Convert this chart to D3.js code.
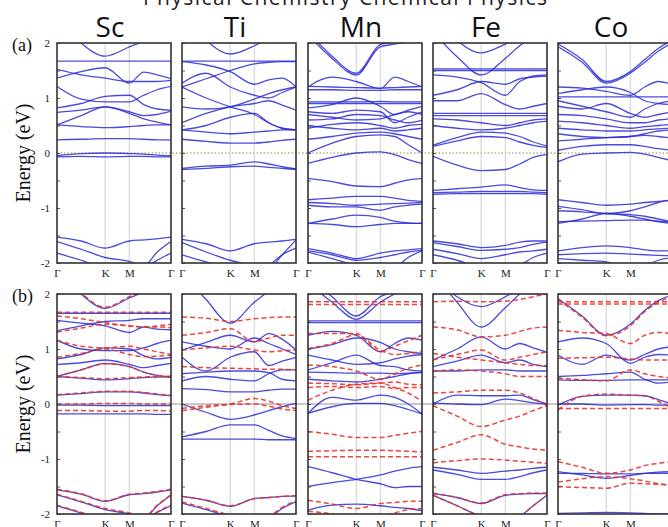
<!DOCTYPE html>
<html>
<head>
<meta charset="utf-8">
<script src="https://cdn.jsdelivr.net/npm/d3@7"></script>
<style>
  body { margin: 0; background: #fff; }
  svg { display: block; }
  .klab text { font-family: "Liberation Serif", "DejaVu Serif", serif; font-size: 11px; fill: #222; }
  .elab text { font-family: "Liberation Serif", "DejaVu Serif", serif; font-size: 11px; fill: #222; }
</style>
</head>
<body>
<svg id="chart" width="668" height="527"></svg>
<script>
// k-path of the hexagonal zone, distances in units of Gamma-K
var kTicks = [0, 1.0, 1.5, 2.366];
var kLabels = ["Γ", "K", "M", "Γ"];
var kGrid = [0, 0.5, 1.0, 1.5, 1.8, 2.08, 2.366];
var elements = ["Sc", "Ti", "Mn", "Fe", "Co"];
var energyTicks = [-2, -1, 0, 1, 2];

// (a) bands, eV
var scBands = [
  [2.5, 2.0, 1.76, 1.93, 2.05, 2.3, 2.5],
  [1.67, 1.67, 1.67, 1.67, 1.67, 1.67, 1.67],
  [1.36, 1.48, 1.55, 1.27, 1.47, 1.42, 1.35],
  [1.52, 1.42, 1.36, 1.3, 1.3, 1.3, 1.32],
  [1.21, 0.98, 0.93, 0.93, 1.05, 1.15, 1.21],
  [0.82, 0.9, 1.03, 1.05, 0.88, 0.8, 0.78],
  [0.74, 0.78, 0.84, 0.75, 0.68, 0.7, 0.76],
  [0.51, 0.68, 0.84, 0.72, 0.62, 0.56, 0.51],
  [0.51, 0.48, 0.46, 0.48, 0.5, 0.51, 0.51],
  [0.24, 0.25, 0.26, 0.26, 0.25, 0.24, 0.24],
  [-0.05, -0.01, 0.0, -0.01, -0.02, -0.04, -0.05],
  [-0.07, -0.06, -0.07, -0.06, -0.06, -0.07, -0.07],
  [-1.53, -1.6, -1.73, -1.6, -1.58, -1.56, -1.53],
  [-1.61, -1.75, -1.9, -1.97, -2.05, -1.8, -1.61],
  [-1.82, -1.95, -2.1, -2.2, -2.1, -1.95, -1.82]
];
var tiBands = [
  [2.6, 2.05, 1.8, 1.95, 2.1, 2.3, 2.5],
  [1.67, 1.67, 1.67, 1.67, 1.67, 1.67, 1.67],
  [1.66, 1.6, 1.48, 1.25, 1.33, 1.36, 1.2],
  [1.2, 1.35, 1.5, 1.62, 1.65, 1.66, 1.66],
  [1.27, 1.45, 1.2, 1.05, 1.0, 1.1, 1.2],
  [1.2, 1.0, 0.84, 0.7, 0.55, 0.45, 0.42],
  [0.84, 0.8, 0.84, 0.98, 1.08, 1.15, 1.2],
  [0.55, 0.72, 0.84, 0.9, 0.95, 0.87, 0.78],
  [0.42, 0.5, 0.65, 0.72, 0.55, 0.45, 0.42],
  [0.42, 0.38, 0.35, 0.38, 0.4, 0.42, 0.42],
  [0.25, 0.21, 0.18, 0.18, 0.2, 0.23, 0.25],
  [-0.28, -0.24, -0.22, -0.16, -0.2, -0.25, -0.29],
  [-0.3, -0.28, -0.25, -0.24, -0.26, -0.28, -0.3],
  [-1.57, -1.65, -1.78, -1.65, -1.62, -1.6, -1.57],
  [-1.63, -1.8, -1.95, -2.05, -2.1, -1.85, -1.58],
  [-1.85, -1.98, -2.1, -2.2, -2.05, -1.85, -1.73]
];
var mnBands = [
  [2.15, 1.72, 1.42, 1.93, 1.98, 2.02, 2.08],
  [2.2, 1.76, 1.45, 1.97, 2.02, 2.07, 2.13],
  [1.2, 1.38, 1.3, 1.17, 1.38, 1.3, 1.2],
  [1.21, 1.2, 1.19, 1.18, 1.19, 1.2, 1.21],
  [1.15, 1.15, 1.14, 1.14, 1.15, 1.15, 1.15],
  [0.93, 0.93, 0.93, 0.94, 0.93, 0.93, 0.93],
  [0.9, 0.9, 0.9, 0.9, 0.9, 0.9, 0.9],
  [0.82, 0.88, 1.0, 0.85, 0.7, 0.78, 0.85],
  [0.75, 0.72, 0.78, 0.75, 0.55, 0.65, 0.75],
  [0.7, 0.65, 0.6, 0.62, 0.7, 0.75, 0.7],
  [0.6, 0.62, 0.7, 0.68, 0.6, 0.55, 0.6],
  [0.45, 0.52, 0.55, 0.5, 0.45, 0.5, 0.52],
  [0.5, 0.45, 0.42, 0.45, 0.4, 0.42, 0.45],
  [0.25, 0.3, 0.36, 0.38, 0.35, 0.3, 0.25],
  [0.0, 0.18, 0.3, 0.33, 0.3, 0.15, 0.0],
  [-0.19, -0.08, 0.0, 0.02, -0.03, -0.12, -0.19],
  [-0.46, -0.52, -0.6, -0.61, -0.55, -0.49, -0.46],
  [-0.85, -0.82, -0.79, -0.79, -0.82, -0.86, -0.88],
  [-0.9, -0.92, -0.95, -0.93, -0.92, -0.91, -0.9],
  [-0.95, -0.98, -0.98, -1.04, -0.98, -0.95, -0.93],
  [-1.28, -1.2, -1.13, -1.17, -1.24, -1.27, -1.28],
  [-1.28, -1.3, -1.34, -1.3, -1.28, -1.28, -1.28],
  [-1.74, -1.82, -1.92, -1.82, -1.78, -1.76, -1.74],
  [-1.78, -1.85, -1.95, -1.9, -1.85, -1.8, -1.77],
  [-1.8, -1.92, -2.05, -2.2, -2.1, -1.9, -1.78]
];
var feBands = [
  [2.6, 2.05, 1.82, 1.98, 2.1, 2.3, 2.5],
  [2.2, 1.75, 1.42, 1.72, 1.95, 2.1, 2.2],
  [1.53, 1.53, 1.53, 1.53, 1.53, 1.53, 1.53],
  [1.5, 1.5, 1.5, 1.5, 1.5, 1.5, 1.5],
  [1.42, 1.38, 1.28, 1.05, 1.3, 1.4, 1.42],
  [1.05, 1.15, 1.3, 1.25, 1.35, 1.38, 1.4],
  [0.95, 0.95, 1.08, 0.88, 0.8, 0.85, 0.9],
  [0.72, 0.72, 0.72, 0.72, 0.72, 0.72, 0.72],
  [0.68, 0.68, 0.68, 0.68, 0.68, 0.68, 0.68],
  [0.62, 0.6, 0.55, 0.5, 0.55, 0.6, 0.62],
  [0.5, 0.45, 0.42, 0.45, 0.5, 0.55, 0.58],
  [0.14, 0.28, 0.38, 0.36, 0.3, 0.2, 0.13],
  [0.12, 0.22, 0.3, 0.28, 0.2, 0.14, 0.1],
  [-0.06, -0.22, -0.32, -0.3, -0.2, -0.08, -0.03],
  [-0.68, -0.65, -0.62, -0.58, -0.63, -0.67, -0.68],
  [-0.72, -0.71, -0.7, -0.7, -0.7, -0.71, -0.72],
  [-0.75, -0.74, -0.74, -0.74, -0.74, -0.74, -0.75],
  [-1.6, -1.65, -1.72, -1.68, -1.62, -1.6, -1.6],
  [-1.63, -1.7, -1.77, -1.75, -1.72, -1.66, -1.62],
  [-1.75, -1.83, -1.92, -1.85, -1.8, -1.78, -1.75],
  [-1.85, -1.95, -2.1, -2.2, -2.05, -1.9, -1.82]
];
var coBands = [
  [1.93, 1.65, 1.27, 1.45, 1.65, 1.85, 2.0],
  [1.98, 1.7, 1.3, 1.48, 1.7, 1.9, 2.05],
  [1.02, 1.02, 1.02, 1.02, 1.02, 1.02, 1.02],
  [1.2, 1.18, 1.12, 1.05, 1.2, 1.3, 1.25],
  [1.08, 1.15, 1.2, 1.1, 0.95, 0.9, 0.88],
  [0.95, 0.85, 0.75, 0.65, 0.8, 0.9, 0.95],
  [0.85, 0.8, 0.9, 0.72, 0.65, 0.7, 0.75],
  [0.7, 0.68, 0.62, 0.55, 0.55, 0.6, 0.62],
  [0.58, 0.55, 0.5, 0.45, 0.48, 0.5, 0.52],
  [0.45, 0.42, 0.4, 0.4, 0.42, 0.44, 0.45],
  [0.35, 0.3, 0.28, 0.3, 0.35, 0.4, 0.42],
  [0.22, 0.25, 0.28, 0.3, 0.32, 0.3, 0.27],
  [0.05, 0.12, 0.15, 0.15, 0.12, 0.08, 0.05],
  [-0.16, -0.02, 0.0, 0.01, -0.02, -0.08, -0.14],
  [-0.85, -0.9, -0.95, -0.93, -0.9, -0.88, -0.86],
  [-0.97, -1.03, -1.1, -1.05, -0.98, -0.9, -0.85],
  [-1.05, -1.07, -1.1, -1.12, -1.15, -1.2, -1.25],
  [-1.28, -1.2, -1.1, -1.15, -1.2, -1.25, -1.28],
  [-1.25, -1.24, -1.23, -1.22, -1.22, -1.24, -1.25],
  [-1.78, -1.72, -1.69, -1.72, -1.76, -1.78, -1.78],
  [-1.85, -1.83, -1.82, -1.84, -1.85, -1.86, -1.87],
  [-1.92, -1.95, -1.98, -2.1, -2.05, -1.95, -1.9]
];

// (b) spin up (solid blue) and spin down (dashed red), eV
var scUp = [
  [2.5, 2.0, 1.74, 1.93, 2.05, 2.3, 2.5],
  [1.65, 1.65, 1.65, 1.65, 1.65, 1.65, 1.65],
  [1.52, 1.47, 1.42, 1.3, 1.4, 1.36, 1.35],
  [1.33, 1.42, 1.5, 1.52, 1.55, 1.55, 1.55],
  [1.16, 1.0, 0.97, 0.97, 1.02, 1.1, 1.16],
  [0.82, 0.9, 1.02, 1.0, 0.88, 0.82, 0.85],
  [0.72, 0.75, 0.8, 0.72, 0.66, 0.7, 0.74],
  [0.5, 0.62, 0.74, 0.68, 0.58, 0.52, 0.48],
  [0.5, 0.47, 0.44, 0.46, 0.48, 0.49, 0.5],
  [0.16, 0.19, 0.22, 0.22, 0.2, 0.17, 0.15],
  [-0.02, -0.02, -0.03, -0.03, -0.03, -0.03, -0.03],
  [-0.18, -0.18, -0.18, -0.18, -0.18, -0.19, -0.19],
  [-1.56, -1.64, -1.77, -1.65, -1.63, -1.6, -1.56],
  [-1.65, -1.78, -1.92, -2.0, -2.08, -1.85, -1.66],
  [-1.85, -1.98, -2.12, -2.2, -2.1, -1.97, -1.85]
];
var scDn = [
  [2.5, 2.02, 1.76, 1.95, 2.07, 2.3, 2.5],
  [1.67, 1.67, 1.67, 1.67, 1.67, 1.67, 1.67],
  [1.6, 1.55, 1.48, 1.42, 1.4, 1.42, 1.45],
  [1.31, 1.38, 1.45, 1.42, 1.4, 1.4, 1.39],
  [1.16, 1.05, 1.02, 1.05, 1.0, 0.95, 0.9],
  [0.85, 0.92, 1.0, 0.9, 0.86, 0.87, 0.89],
  [0.5, 0.62, 0.73, 0.68, 0.58, 0.52, 0.5],
  [0.5, 0.48, 0.46, 0.48, 0.49, 0.5, 0.5],
  [0.17, 0.2, 0.23, 0.23, 0.21, 0.18, 0.16],
  [0.0, 0.0, 0.01, 0.01, 0.0, 0.0, 0.0],
  [-0.12, -0.12, -0.13, -0.13, -0.12, -0.12, -0.13],
  [-1.55, -1.63, -1.76, -1.64, -1.62, -1.59, -1.55],
  [-1.64, -1.77, -1.9, -1.98, -2.06, -1.84, -1.65],
  [-1.84, -1.97, -2.1, -2.2, -2.1, -1.96, -1.84]
];
var tiUp = [
  [2.4, 1.9, 1.47, 1.85, 2.05, 2.2, 2.4],
  [0.98, 1.12, 1.25, 1.13, 1.28, 1.18, 0.98],
  [1.13, 1.05, 1.0, 1.2, 1.1, 1.0, 0.9],
  [0.85, 0.6, 0.85, 0.95, 0.7, 0.78, 0.85],
  [0.55, 0.58, 0.6, 0.6, 0.57, 0.45, 0.42],
  [0.42, 0.5, 0.45, 0.42, 0.55, 0.62, 0.62],
  [0.28, 0.26, 0.22, 0.22, 0.25, 0.27, 0.27],
  [0.0, -0.15, -0.28, -0.2, -0.12, -0.05, 0.01],
  [-0.6, -0.5, -0.38, -0.38, -0.48, -0.58, -0.63],
  [-0.64, -0.64, -0.64, -0.64, -0.65, -0.65, -0.65],
  [-1.68, -1.75, -1.86, -1.72, -1.7, -1.68, -1.67],
  [-1.8, -1.92, -2.05, -2.15, -2.08, -1.9, -1.78]
];
var tiDn = [
  [1.58, 1.56, 1.5, 1.55, 1.57, 1.58, 1.58],
  [1.25, 1.3, 1.37, 1.13, 1.2, 1.25, 1.25],
  [0.98, 1.02, 1.05, 0.98, 0.95, 0.97, 0.98],
  [0.68, 0.66, 0.65, 0.64, 0.63, 0.63, 0.62],
  [-0.08, -0.03, 0.0, 0.1, 0.05, -0.03, -0.08],
  [-0.12, -0.06, -0.01, 0.0, -0.04, -0.09, -0.12],
  [-1.68, -1.75, -1.85, -1.72, -1.7, -1.68, -1.67],
  [-1.78, -1.9, -2.02, -2.12, -2.05, -1.88, -1.76]
];
var mnUp = [
  [2.2, 1.85, 1.54, 1.85, 2.0, 2.1, 2.2],
  [2.3, 1.95, 1.6, 1.95, 2.05, 2.15, 2.25],
  [1.51, 1.51, 1.51, 1.51, 1.51, 1.51, 1.51],
  [1.48, 1.48, 1.48, 1.48, 1.48, 1.48, 1.48],
  [1.25, 1.32, 1.25, 0.95, 1.1, 1.2, 1.16],
  [1.0, 1.08, 1.2, 1.12, 1.0, 0.95, 0.92],
  [0.89, 0.8, 0.72, 0.75, 0.82, 0.87, 0.9],
  [0.62, 0.75, 0.89, 0.7, 0.68, 0.62, 0.6],
  [0.58, 0.57, 0.56, 0.56, 0.55, 0.56, 0.57],
  [0.45, 0.42, 0.4, 0.45, 0.5, 0.55, 0.58],
  [-0.17, 0.12, 0.07, 0.16, 0.12, 0.0, -0.18],
  [-0.17, -0.05, 0.01, 0.01, -0.03, -0.1, -0.18],
  [-1.14, -1.25, -1.37, -1.45, -1.52, -1.5, -1.5],
  [-1.5, -1.43, -1.37, -1.29, -1.22, -1.17, -1.14],
  [-1.93, -1.84, -1.82, -1.85, -1.88, -1.9, -1.94]
];
var mnDn = [
  [1.86, 1.86, 1.86, 1.86, 1.86, 1.86, 1.86],
  [1.81, 1.81, 1.81, 1.81, 1.81, 1.81, 1.81],
  [1.28, 1.28, 1.28, 0.95, 1.05, 1.15, 1.25],
  [1.01, 1.1, 1.26, 0.98, 0.9, 0.92, 0.95],
  [0.71, 0.68, 0.6, 0.45, 0.55, 0.65, 0.71],
  [0.38, 0.37, 0.35, 0.38, 0.4, 0.36, 0.35],
  [0.3, 0.32, 0.3, 0.32, 0.28, 0.3, 0.3],
  [0.07, 0.25, 0.36, 0.38, 0.3, 0.2, 0.05],
  [-0.5, -0.55, -0.61, -0.61, -0.57, -0.53, -0.5],
  [-0.86, -0.85, -0.84, -0.84, -0.85, -0.86, -0.87],
  [-0.96, -0.96, -0.96, -0.96, -0.96, -0.96, -0.96],
  [-1.75, -1.82, -1.9, -1.81, -1.79, -1.77, -1.77],
  [-1.95, -2.0, -2.1, -2.05, -1.98, -1.92, -1.9]
];
var feUp = [
  [2.3, 1.95, 1.77, 1.95, 2.1, 2.3, 2.4],
  [2.4, 1.85, 1.4, 1.75, 2.0, 2.2, 2.3],
  [0.8, 1.0, 1.22, 1.0, 1.1, 1.02, 0.94],
  [0.68, 0.78, 0.89, 0.75, 0.8, 0.72, 0.68],
  [0.6, 0.6, 0.62, 0.62, 0.6, 0.6, 0.6],
  [0.0, 0.16, 0.15, 0.15, 0.16, 0.08, 0.0],
  [0.02, 0.0, -0.01, 0.09, 0.06, 0.02, 0.0],
  [-1.15, -1.2, -1.26, -1.22, -1.2, -1.17, -1.15],
  [-1.2, -1.28, -1.37, -1.37, -1.32, -1.25, -1.2],
  [-1.63, -1.7, -1.81, -1.66, -1.64, -1.63, -1.63],
  [-1.66, -1.85, -2.05, -2.2, -2.05, -1.85, -1.66]
];
var feDn = [
  [1.86, 1.87, 1.86, 1.87, 1.9, 1.95, 2.0],
  [1.4, 1.35, 1.22, 1.25, 1.32, 1.38, 1.4],
  [0.8, 0.9, 0.98, 0.8, 0.85, 0.9, 0.95],
  [0.92, 0.85, 0.8, 0.75, 0.72, 0.7, 0.7],
  [0.6, 0.62, 0.6, 0.55, 0.5, 0.5, 0.5],
  [0.2, 0.22, 0.25, 0.25, 0.2, 0.1, -0.03],
  [-0.03, -0.22, -0.41, -0.29, -0.22, -0.12, -0.03],
  [-0.84, -0.7, -0.56, -0.73, -0.78, -0.82, -0.84],
  [-1.07, -1.03, -1.0, -1.02, -1.04, -1.06, -1.08],
  [-1.62, -1.7, -1.8, -1.65, -1.63, -1.62, -1.62],
  [-1.66, -1.85, -2.05, -2.2, -2.05, -1.85, -1.66]
];
var coUp = [
  [1.92, 1.6, 1.25, 1.45, 1.7, 1.88, 1.98],
  [1.13, 1.2, 1.1, 0.74, 0.85, 0.9, 0.89],
  [0.89, 0.72, 0.89, 0.8, 0.9, 1.0, 1.04],
  [0.5, 0.52, 0.55, 0.58, 0.45, 0.38, 0.4],
  [0.44, 0.43, 0.43, 0.44, 0.44, 0.44, 0.44],
  [-0.02, 0.14, 0.16, 0.16, 0.15, 0.08, 0.0],
  [0.0, 0.0, -0.02, -0.01, -0.01, -0.02, -0.02],
  [-1.23, -1.29, -1.35, -1.3, -1.26, -1.24, -1.23],
  [-1.26, -1.26, -1.27, -1.27, -1.26, -1.26, -1.26],
  [-1.99, -1.98, -1.97, -1.98, -1.99, -2.0, -2.0]
];
var coDn = [
  [1.9, 1.58, 1.24, 1.42, 1.68, 1.85, 1.95],
  [1.86, 1.86, 1.86, 1.86, 1.86, 1.86, 1.86],
  [1.82, 1.82, 1.82, 1.82, 1.82, 1.82, 1.82],
  [1.34, 1.3, 1.28, 1.1, 1.25, 1.3, 1.28],
  [0.83, 0.84, 0.85, 0.82, 0.8, 0.8, 0.8],
  [0.47, 0.44, 0.42, 0.62, 0.55, 0.5, 0.47],
  [-0.11, 0.14, 0.18, 0.16, 0.15, 0.05, -0.08],
  [-0.08, -0.08, -0.08, -0.08, -0.08, -0.08, -0.08],
  [-1.05, -1.15, -1.26, -1.2, -1.12, -1.08, -1.05],
  [-1.5, -1.52, -1.53, -1.44, -1.45, -1.46, -1.47],
  [-1.42, -1.36, -1.32, -1.36, -1.4, -1.45, -1.48]
];

var svg = d3.select("#chart");
var colLeft = [57, 182, 308, 433, 558];
var panelW = 114;
var rows = [
  { top: 43, bottom: 263, tag: "(a)", zero: "dots", sets: [[scBands], [tiBands], [mnBands], [feBands], [coBands]] },
  { top: 294, bottom: 514, tag: "(b)", zero: "grey", sets: [[scUp, scDn], [tiUp, tiDn], [mnUp, mnDn], [feUp, feDn], [coUp, coDn]] }
];
var styles = [
  { color: "#2a2ad6", width: 1.3, dash: null, opacity: 0.85 },
  { color: "#e8332b", width: 1.5, dash: "5,3", opacity: 0.9 }
];

svg.append("rect").attr("width", 668).attr("height", 527).attr("fill", "#fff");

// journal banner, cut off at the top edge
svg.append("text")
  .attr("x", 143).attr("y", 5)
  .attr("textLength", 404)
  .style("font-family", "'Open Sans', sans-serif")
  .style("font-size", "21px")
  .style("fill", "#222")
  .text("Physical Chemistry Chemical Physics");

elements.forEach(function (el, i) {
  svg.append("text")
    .attr("x", colLeft[i] + panelW / 2 - 4).attr("y", 37)
    .attr("text-anchor", "middle")
    .style("font-family", "'Open Sans', sans-serif")
    .style("font-size", "28px")
    .style("fill", "#111")
    .text(el);
});

rows.forEach(function (row, r) {
  var ys = d3.scaleLinear().domain([-2, 2]).range([row.bottom, row.top]);

  // Fermi level, runs across the whole row
  var z = svg.append("line")
    .attr("x1", colLeft[0]).attr("x2", 668)
    .attr("y1", ys(0)).attr("y2", ys(0));
  if (row.zero == "dots")
    z.attr("stroke", "#8c8c3c").attr("stroke-width", 1).attr("stroke-dasharray", "1.5,2");
  else
    z.attr("stroke", "#c8c8c8").attr("stroke-width", 1.8);

  row.sets.forEach(function (set, c) {
    var left = colLeft[c];
    var xs = d3.scaleLinear().domain([0, 2.366]).range([left, left + panelW]);
    var g = svg.append("g");
    var clipId = "clip" + r + c;

    g.append("clipPath").attr("id", clipId)
      .append("rect")
      .attr("x", left).attr("y", row.top)
      .attr("width", panelW).attr("height", row.bottom - row.top);

    // high-symmetry guides
    g.selectAll("line.kg")
      .data(kTicks.slice(1, 3))
      .enter().append("line")
      .attr("x1", d => xs(d)).attr("x2", d => xs(d))
      .attr("y1", row.top).attr("y2", row.bottom)
      .attr("stroke", "#cfcfcf").attr("stroke-width", 1);

    var line = d3.line()
      .x((d, i) => xs(kGrid[i]))
      .y(d => ys(d))
      .curve(d3.curveMonotoneX);

    var bands = g.append("g").attr("clip-path", "url(#" + clipId + ")");
    set.forEach(function (data, s) {
      var st = styles[s];
      bands.selectAll("path.s" + s)
        .data(data)
        .enter().append("path")
        .attr("class", "s" + s)
        .attr("d", line)
        .attr("fill", "none")
        .attr("stroke", st.color)
        .attr("stroke-width", st.width)
        .attr("stroke-opacity", st.opacity)
        .attr("stroke-dasharray", st.dash);
    });

    // k labels
    var x_axis = d3.axisBottom(xs)
      .tickValues(kTicks)
      .tickFormat((d, i) => kLabels[i])
      .tickSize(0)
      .tickPadding(6);
    g.append("g")
      .attr("class", "klab")
      .attr("transform", `translate(0,${row.bottom})`)
      .call(x_axis)
      .call(a => a.select(".domain").remove());

    // inward energy ticks, numbers only on the first panel
    var y_axis = d3.axisLeft(ys)
      .tickValues(d3.range(-2, 2.01, 0.5))
      .tickSizeInner(-3)
      .tickSizeOuter(0)
      .tickPadding(7)
      .tickFormat(d => (c == 0 && energyTicks.indexOf(d) >= 0) ? d3.format("d")(d).replace("−", "-") : "");
    g.append("g")
      .attr("class", "elab")
      .attr("transform", `translate(${left},0)`)
      .call(y_axis)
      .call(a => a.select(".domain").remove())
      .call(a => a.selectAll(".tick line").attr("stroke", "#555"));

    g.append("rect")
      .attr("x", left).attr("y", row.top)
      .attr("width", panelW).attr("height", row.bottom - row.top)
      .attr("fill", "none")
      .attr("stroke", "#333")
      .attr("stroke-width", 1.6);
  });

  svg.append("text")
    .attr("x", 12).attr("y", row.top + 8)
    .style("font-family", "'Liberation Serif', serif")
    .style("font-size", "18px")
    .style("fill", "#111")
    .text(row.tag);

  svg.append("text")
    .attr("transform", `translate(30,${(row.top + row.bottom) / 2}) rotate(-90)`)
    .attr("text-anchor", "middle")
    .style("font-family", "'Liberation Serif', serif")
    .style("font-size", "20px")
    .style("fill", "#111")
    .text("Energy (eV)");
});
</script>
</body>
</html>
